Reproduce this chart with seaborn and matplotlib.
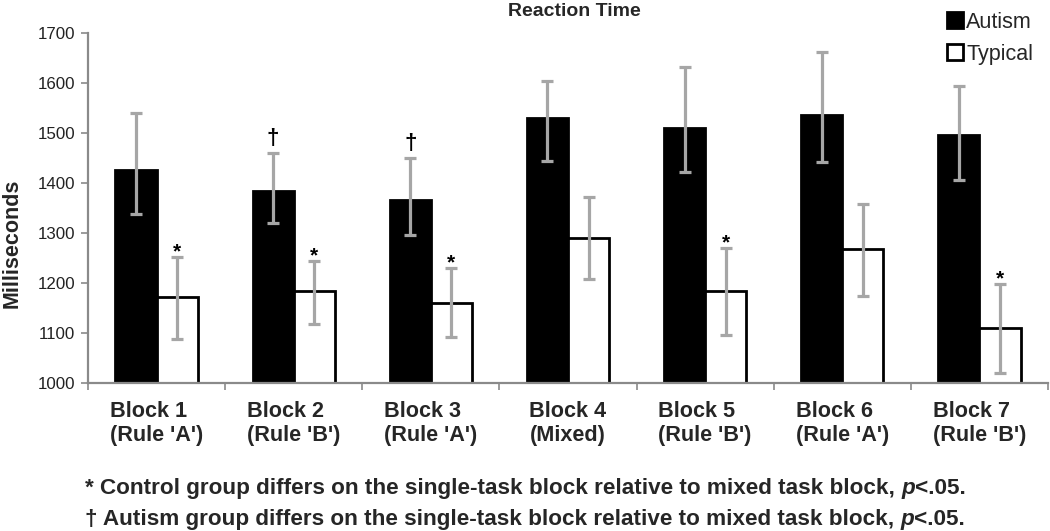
import pandas as pd
import matplotlib
matplotlib.use("Agg")
import matplotlib.pyplot as plt
from matplotlib.patches import Patch
import seaborn as sns

# Values
blocks = ["Block 1\n(Rule 'A')", "Block 2\n(Rule 'B')", "Block 3\n(Rule 'A')",
          "Block 4\n(Mixed)", "Block 5\n(Rule 'B')", "Block 6\n(Rule 'A')",
          "Block 7\n(Rule 'B')"]
autism_rt = [1426, 1384, 1366, 1530, 1510, 1536, 1496]
autism_hi = [1541, 1460, 1450, 1604, 1632, 1662, 1594]
autism_lo = [1338, 1320, 1296, 1444, 1422, 1442, 1406]
typical_rt = [1172, 1184, 1160, 1290, 1184, 1268, 1110]
typical_hi = [1252, 1244, 1230, 1372, 1270, 1358, 1198]
typical_lo = [1088, 1118, 1092, 1208, 1096, 1174, 1020]
autism_dagger = [0, 1, 1, 0, 0, 0, 0]
typical_star = [1, 1, 1, 0, 1, 0, 1]
groups = ["Autism", "Typical"]
y_ticks = [1000, 1100, 1200, 1300, 1400, 1500, 1600, 1700]
footnote_1 = "* Control group differs on the single-task block relative to mixed task block, "
footnote_2 = "\u2020 Autism group differs on the single-task block relative to mixed task block, "


def make_plot():
    df = pd.DataFrame({
        "Block": blocks * 2,
        "Group": [groups[0]] * len(blocks) + [groups[1]] * len(blocks),
        "RT": autism_rt + typical_rt,
    })

    sns.set_theme(style="white")
    plt.rcParams["font.family"] = ["Liberation Sans", "DejaVu Sans"]

    fig = plt.figure(figsize=(10.5, 5.31), dpi=100)
    ax = fig.add_axes([88 / 1050, 1 - 383 / 531, 960 / 1050, 350 / 531])

    sns.barplot(data=df, x="Block", y="RT", hue="Group", order=blocks,
                hue_order=groups, palette={"Autism": "black", "Typical": "white"},
                edgecolor="black", linewidth=2, width=0.6, gap=0, ax=ax,
                legend=False)

    grey = "#a6a6a6"
    series = [(autism_rt, autism_lo, autism_hi, autism_dagger, "\u2020", 16, 3, "bottom"),
              (typical_rt, typical_lo, typical_hi, typical_star, "*", 15, 0, "baseline")]
    for cont, (vals, lo, hi, marks, sym, fs, off, va) in zip(ax.containers, series):
        xs = [b.get_x() + b.get_width() / 2 for b in cont]
        yerr = [[v - l for v, l in zip(vals, lo)], [h - v for v, h in zip(vals, hi)]]
        ax.errorbar(xs, vals, yerr=yerr, fmt="none", ecolor=grey,
                    elinewidth=2.3, capsize=4, capthick=2.3, zorder=5)
        for x, h, m in zip(xs, hi, marks):
            if m:
                ax.annotate(sym, xy=(x, h), xytext=(0, off),
                            textcoords="offset points", ha="center", va=va,
                            fontsize=fs, fontweight="bold", color="black")

    ax.set_ylim(1000, 1700)
    ax.set_xlim(-0.5, len(blocks) - 0.5)
    ax.set_yticks(y_ticks)
    ax.tick_params(axis="y", which="major", left=True, length=5, width=1.2,
                   color="#8a8a8a", labelsize=12.2, labelcolor="#222222", pad=4)
    ax.set_xticks(range(len(blocks)))
    ax.set_xticks([i - 0.5 for i in range(len(blocks) + 1)], minor=True)
    ax.tick_params(axis="x", which="major", length=0, pad=13, labelsize=15.6)
    ax.tick_params(axis="x", which="minor", bottom=True, length=5, width=1.2,
                   color="#8a8a8a")
    for lab in ax.get_xticklabels():
        lab.set_fontweight("bold")
        lab.set_linespacing(1.2)
        lab.set_multialignment("left")

    for side in ["top", "right"]:
        ax.spines[side].set_visible(False)
    for side in ["left", "bottom"]:
        ax.spines[side].set_color("#8a8a8a")
        ax.spines[side].set_linewidth(1.6)

    ax.set_xlabel("")
    ax.set_ylabel("Milliseconds", fontsize=15.5, fontweight="bold")
    ax.yaxis.set_label_coords(-0.068, 0.4)

    fig.text(574 / 1050, 1 - 16 / 531, "Reaction Time", ha="center",
             va="baseline", fontsize=14, fontweight="bold")

    handles = [Patch(facecolor="black", edgecolor="black", linewidth=2),
               Patch(facecolor="white", edgecolor="black", linewidth=2)]
    fig.legend(handles, groups, loc="upper right",
               bbox_to_anchor=(1044 / 1050, 1 - 1 / 531), frameon=False,
               fontsize=15.5, handlelength=0.75, handleheight=0.75,
               handletextpad=0.15, labelspacing=0.5, borderpad=0)

    # footnotes, with italic p
    for txt, ybase in [(footnote_1, 494), (footnote_2, 525)]:
        t1 = fig.text(85 / 1050, 1 - ybase / 531, txt, ha="left", va="baseline",
                      fontsize=16.2, fontweight="bold")
        a = ax.annotate("p", xy=(1, 0), xycoords=t1, ha="left", va="bottom",
                        fontsize=16.2, fontweight="bold", style="italic",
                        annotation_clip=False)
        ax.annotate("<.05.", xy=(1, 0), xycoords=a, ha="left", va="bottom",
                    fontsize=16.2, fontweight="bold", annotation_clip=False)

    fig.savefig("out.png", dpi=100)


if __name__ == "__main__":
    make_plot()
